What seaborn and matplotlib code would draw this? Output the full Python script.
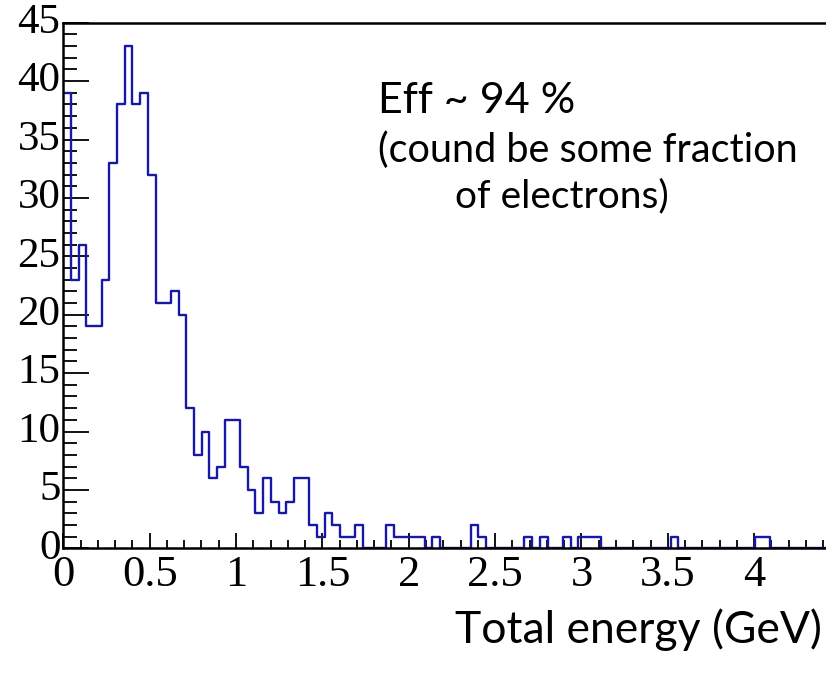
import numpy as np
import pandas as pd
import matplotlib
matplotlib.use("Agg")
import matplotlib.pyplot as plt
from matplotlib.ticker import MultipleLocator
import seaborn as sns

# ---- data ----
X_MIN, X_MAX, N_BINS = 0.0, 4.45, 100
counts = [
    39, 23, 26, 19, 19, 23, 33, 38, 43, 38,
    39, 32, 21, 21, 22, 20, 12, 8, 10, 6,
    7, 11, 11, 7, 5, 3, 6, 4, 3, 4,
    6, 6, 2, 1, 3, 2, 1, 1, 2, 0,
    0, 0, 2, 1, 1, 1, 1, 0, 1, 0,
    0, 0, 0, 2, 1, 0, 0, 0, 0, 0,
    1, 0, 1, 0, 0, 1, 0, 1, 1, 1,
    0, 0, 0, 0, 0, 0, 0, 0, 0, 1,
    0, 0, 0, 0, 0, 0, 0, 0, 0, 0,
    1, 1, 0, 0, 0, 0, 0, 0, 0, 0,
]
x_ticks = [0, 0.5, 1, 1.5, 2, 2.5, 3, 3.5, 4]
x_tick_labels = ["0", "0.5", "1", "1.5", "2", "2.5", "3", "3.5", "4"]
y_ticks = [0, 5, 10, 15, 20, 25, 30, 35, 40, 45]
y_tick_labels = [str(v) for v in y_ticks]
x_label = "Total energy (GeV)"
note_lines = ["Eff ~ 94 %", "(cound be some fraction", "of electrons)"]

bin_edges = np.linspace(X_MIN, X_MAX, N_BINS + 1)
centers = 0.5 * (bin_edges[:-1] + bin_edges[1:])
df = pd.DataFrame({"energy": centers, "count": counts})

fig = plt.figure(figsize=(8.26, 6.78), dpi=100)
ax = fig.add_axes([0.0766, 0.1913, 0.9306, 0.7752])

sns.histplot(data=df, x="energy", weights="count", bins=bin_edges.tolist(),
             element="step", fill=False, color="#1818a8", linewidth=1.7, ax=ax)

ax.set_xlim(X_MIN, X_MAX)
ax.set_ylim(0, 45)
ax.set_xlabel("")
ax.set_ylabel("")

for s in ["left", "bottom", "top"]:
    ax.spines[s].set_linewidth(1.8)
    ax.spines[s].set_color("black")
ax.spines["right"].set_visible(False)

ax.set_xticks(x_ticks)
ax.set_xticklabels(x_tick_labels, family="Liberation Serif", fontsize=32)
ax.set_yticks(y_ticks)
ax.set_yticklabels(y_tick_labels, family="Liberation Serif", fontsize=31)
ax.xaxis.set_minor_locator(MultipleLocator(0.1))
ax.yaxis.set_minor_locator(MultipleLocator(1))

ax.tick_params(axis="x", which="major", direction="in", length=11, width=1.3, pad=5, top=False)
ax.tick_params(axis="x", which="minor", direction="in", length=5.5, width=1.3, top=False)
ax.tick_params(axis="y", which="major", direction="in", length=19, width=1.3, pad=2, right=False)
ax.tick_params(axis="y", which="minor", direction="in", length=10, width=1.3, right=False)
for lbl in ax.get_yticklabels():
    lbl.set_verticalalignment("center")

sans = ["Lato", "DejaVu Sans"]
fig.text(378 / 826, 1 - 113 / 678, note_lines[0], family=sans, fontsize=31, va="baseline", ha="left")
fig.text(378 / 826, 1 - 162 / 678, note_lines[1], family=sans, fontsize=28.5, va="baseline", ha="left")
fig.text(455 / 826, 1 - 207 / 678, note_lines[2], family=sans, fontsize=28, va="baseline", ha="left")
fig.text(822 / 826, 1 - 643 / 678, x_label, family=sans, fontsize=32, va="baseline", ha="right")

fig.savefig("out.png", dpi=100)
